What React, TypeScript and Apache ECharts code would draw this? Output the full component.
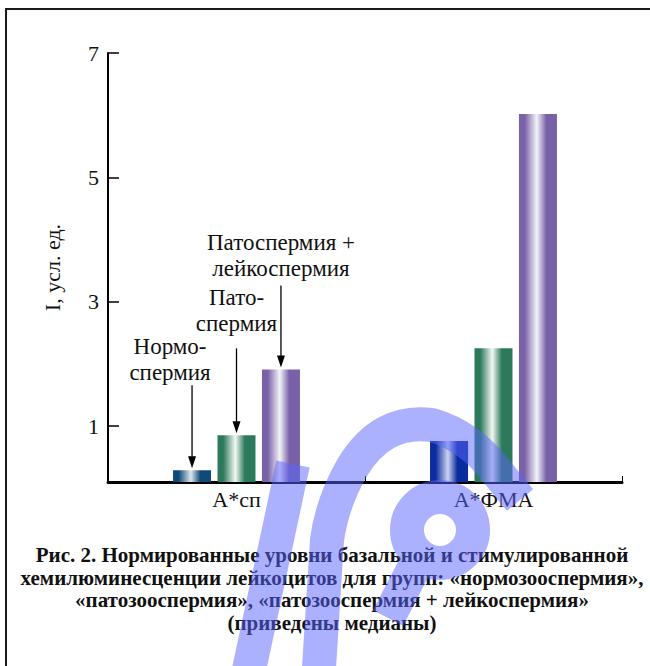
import React, { useEffect, useRef } from "react";
import * as echarts from "echarts";

const categories = ["А*сп", "А*ФМА"];
const seriesNames = ["Нормоспермия", "Патоспермия", "Патоспермия + лейкоспермия"];
const normo = [0.29, 0.76];
const pato = [0.85, 2.25];
const patoLeuko = [1.91, 6.02];
const yTicks = [1, 3, 5, 7];
const yAxisName = "I, усл. ед.";
const annotationTexts = ["Нормо-\nспермия", "Пато-\nспермия", "Патоспермия +\nлейкоспермия"];
const captionLines = [
  "Рис. 2. Нормированные уровни базальной и стимулированной",
  "хемилюминесценции лейкоцитов для групп: «нормозооспермия»,",
  "«патозооспермия», «патозооспермия + лейкоспермия»",
  "(приведены медианы)",
];

const serif = "Liberation Serif, Times New Roman, serif";
const watermarkPath =
  "M293,464 L246,684 " +
  "M520,500 L497,472 Q470,436 432,425 Q382,418 352,468 Q332,503 327,540 L318,684 " +
  "M407,530 A33,33 0 1,0 473,530 A33,33 0 1,0 407,530 " +
  "M418,560 L388,618";

export default function App() {
  const ref = useRef<HTMLDivElement>(null);
  useEffect(() => {
    document.body.style.margin = "0";
    try {
      echarts.graphic.registerShape("wmark", (echarts.graphic as any).extendPath(watermarkPath, {}));
    } catch (e) {}
    const chart = echarts.init(ref.current!, null, { renderer: "svg" });
    const barData = [normo, pato, patoLeuko];
    const palettes = [
      [["#114a78", "#dde7ef"], ["#0b2c9e", "#cdd3f2"]],
      [["#2c7a5b", "#f3f7f3"], ["#2c7a5b", "#f3f7f3"]],
      [["#7961a7", "#f5f3fa"], ["#7961a7", "#f5f3fa"]],
    ];
    const grad = (d: string, l: string) =>
      new echarts.graphic.LinearGradient(0, 0, 1, 0, [
        { offset: 0, color: d },
        { offset: 0.15, color: d },
        { offset: 0.47, color: l },
        { offset: 0.72, color: d },
        { offset: 1, color: d },
      ]);
    const option: any = {
      animation: false,
      grid: { left: 108, right: 28, top: 53, bottom: 184, containLabel: false, outerBoundsMode: "none" },
      xAxis: {
        type: "category",
        data: categories,
        axisLine: { lineStyle: { color: "#000", width: 3 } },
        axisTick: { show: true, inside: true, length: 6, lineStyle: { color: "#000", width: 1 } },
        axisLabel: { fontFamily: serif, fontSize: 22, color: "#111", margin: 6 },
      },
      yAxis: {
        type: "value",
        min: 0.1,
        max: 7,
        name: yAxisName,
        nameLocation: "middle",
        nameGap: 45,
        nameRotate: 90,
        nameTextStyle: { fontFamily: serif, fontSize: 22, color: "#111" },
        axisLine: { show: true, lineStyle: { color: "#000", width: 2 } },
        axisTick: { show: true, inside: true, length: 11, lineStyle: { color: "#000", width: 1.5 }, customValues: yTicks },
        axisLabel: { fontFamily: serif, fontSize: 22, color: "#111", margin: 9, customValues: yTicks },
        splitLine: { show: false },
      },
      series: barData.map((vals, si) => ({
        type: "bar",
        name: seriesNames[si],
        barWidth: 38,
        barGap: "17%",
        data: vals.map((v, ci) => ({ value: v, itemStyle: { color: grad(palettes[si][ci][0], palettes[si][ci][1]) } })),
      })),
    };
    chart.setOption(option);

    const slot = 38 * 1.17;
    const textDx = [-22, 0, 0];
    const textGap = [85, 99, 88];
    const arrowStart = [85, 87, 84];
    const g: any[] = [];
    g.push({
      type: "rect",
      shape: { x: 6, y: 9, width: 700, height: 700 },
      style: { fill: "none", stroke: "#1a1a1a", lineWidth: 2 },
      silent: true,
    });
    annotationTexts.forEach((t, si) => {
      const p = chart.convertToPixel({ gridIndex: 0 } as any, [0, barData[si][0]]) as number[];
      const x = p[0] + (si - 1) * slot;
      const top = p[1];
      g.push({
        type: "text",
        x: x + textDx[si],
        y: top - textGap[si],
        style: {
          text: t,
          fontFamily: serif,
          fontSize: 23,
          fill: "#111",
          align: "center",
          textAlign: "center",
          verticalAlign: "bottom",
          textVerticalAlign: "bottom",
          lineHeight: 26,
        },
      });
      g.push({
        type: "line",
        shape: { x1: x, y1: top - arrowStart[si], x2: x, y2: top - 12 },
        style: { stroke: "#000", lineWidth: 1.3 },
      });
      g.push({
        type: "polygon",
        shape: { points: [[x - 4, top - 14], [x + 4, top - 14], [x, top - 2]] },
        style: { fill: "#000" },
      });
    });
    g.push({
      type: "text",
      x: 332,
      y: 544,
      style: {
        text: captionLines.join("\n"),
        fontFamily: serif,
        fontSize: 21,
        fontWeight: "bold",
        fill: "#111",
        align: "center",
        textAlign: "center",
        verticalAlign: "top",
        textVerticalAlign: "top",
        lineHeight: 22.5,
      },
    });
    g.push({
      type: "wmark",
      x: 0,
      y: 0,
      z: 100,
      silent: true,
      style: { fill: "none", stroke: "rgba(90,100,255,0.5)", lineWidth: 34, lineCap: "butt", lineJoin: "round" },
    });
    chart.setOption({ graphic: g });
    return () => chart.dispose();
  }, []);
  return <div ref={ref} style={{ width: 650, height: 666 }} />;
}
